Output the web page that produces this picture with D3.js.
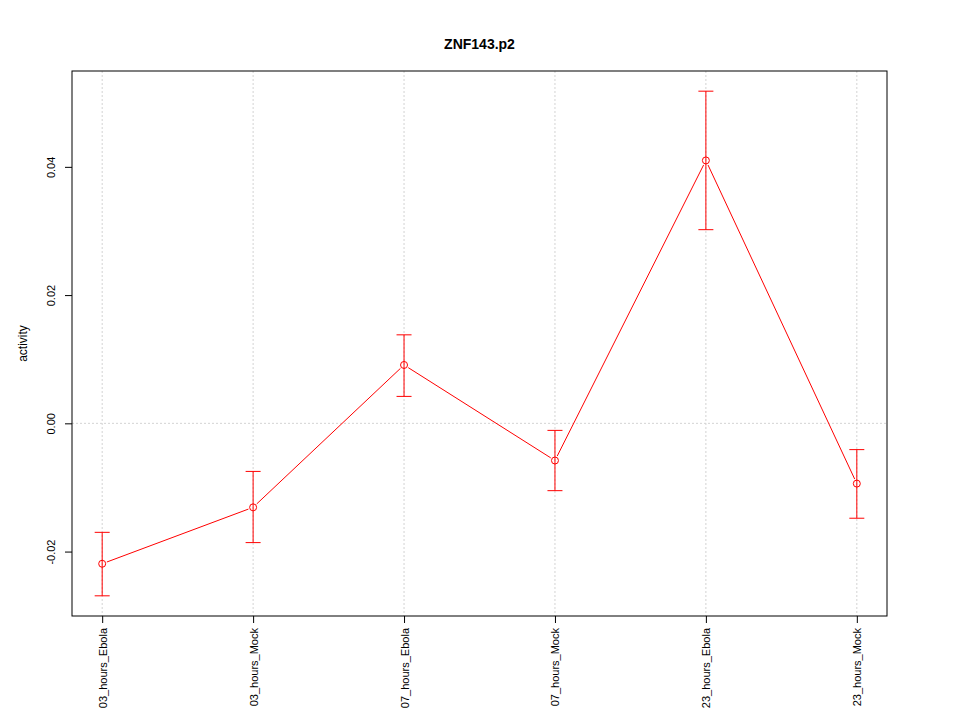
<!DOCTYPE html>
<html>
<head>
<meta charset="utf-8">
<script src="https://cdn.jsdelivr.net/npm/d3@7/dist/d3.min.js"></script>
<style>
body { margin: 0; background: #fff; }
svg { font-family: "Liberation Sans", Arial, sans-serif; }
</style>
</head>
<body>
<svg id="chart" width="960" height="720"></svg>
<script>
const categories = ["03_hours_Ebola", "03_hours_Mock", "07_hours_Ebola", "07_hours_Mock", "23_hours_Ebola", "23_hours_Mock"];
const values = [-0.0219, -0.0131, 0.0091, -0.0058, 0.0410, -0.0094];
const upper = [-0.0170, -0.0075, 0.0138, -0.0011, 0.0518, -0.0041];
const lower = [-0.0269, -0.0186, 0.0042, -0.0105, 0.0302, -0.0148];
const yTicks = [-0.02, 0.00, 0.02, 0.04];
const yTickLabels = ["-0.02", "0.00", "0.02", "0.04"];
const title = "ZNF143.p2";
const yLabel = "activity";

const svg = d3.select("#chart");
const L = 72, R = 887, T = 71, B = 616;

const x = d3.scaleLinear().domain([0.8, 6.2]).range([L, R]);
const lo = d3.min(lower), hi = d3.max(upper), pad = (hi - lo) * 0.04;
const y = d3.scaleLinear().domain([lo - pad, hi + pad]).range([B, T]);

// grid
const grid = svg.append("g").attr("stroke", "#d3d3d3").attr("stroke-dasharray", "2,2").attr("stroke-width", 1);
categories.forEach((c, i) => {
  grid.append("line").attr("x1", x(i + 1)).attr("x2", x(i + 1)).attr("y1", T).attr("y2", B);
});
grid.append("line").attr("x1", L).attr("x2", R).attr("y1", y(0)).attr("y2", y(0));

// box
svg.append("rect").attr("x", L).attr("y", T).attr("width", R - L).attr("height", B - T)
  .attr("fill", "none").attr("stroke", "#000").attr("stroke-width", 1);

// y axis
const yAxis = d3.axisLeft(y).tickValues(yTicks).tickSize(7).tickFormat((d, i) => yTickLabels[i]);
const gy = svg.append("g").attr("transform", `translate(${L},0)`).call(yAxis);
gy.select(".domain").remove();
gy.selectAll(".tick line").attr("stroke", "#000");
gy.selectAll(".tick text")
  .attr("font-size", 11).attr("fill", "#000")
  .attr("text-anchor", "middle")
  .attr("x", null).attr("dy", null)
  .attr("transform", "translate(-17,0) rotate(-90)")
  .attr("y", 0);

// x axis
const xAxis = d3.axisBottom(x).tickValues(categories.map((c, i) => i + 1)).tickSize(7).tickFormat((d) => categories[d - 1]);
const gx = svg.append("g").attr("transform", `translate(0,${B})`).call(xAxis);
gx.select(".domain").remove();
gx.selectAll(".tick line").attr("stroke", "#000");
gx.selectAll(".tick text")
  .attr("font-size", 11).attr("fill", "#000")
  .attr("text-anchor", "end")
  .attr("y", null).attr("dy", null)
  .attr("transform", "translate(4,12) rotate(-90)")
  .attr("x", 0);

// error bars
const eb = svg.append("g").attr("stroke", "#ff0000").attr("stroke-width", 1).attr("fill", "none");
categories.forEach((c, i) => {
  const cx = x(i + 1);
  eb.append("line").attr("x1", cx).attr("x2", cx).attr("y1", y(lower[i])).attr("y2", y(upper[i]));
  eb.append("line").attr("x1", cx - 7.5).attr("x2", cx + 7.5).attr("y1", y(lower[i])).attr("y2", y(lower[i]));
  eb.append("line").attr("x1", cx - 7.5).attr("x2", cx + 7.5).attr("y1", y(upper[i])).attr("y2", y(upper[i]));
});

// line with gaps around points (type "b")
const gap = 5;
const lg = svg.append("g").attr("stroke", "#ff0000").attr("stroke-width", 1);
for (let i = 0; i < values.length - 1; i++) {
  const x1 = x(i + 1), y1 = y(values[i]), x2 = x(i + 2), y2 = y(values[i + 1]);
  const dx = x2 - x1, dy = y2 - y1, len = Math.hypot(dx, dy);
  const ux = dx / len, uy = dy / len;
  lg.append("line")
    .attr("x1", x1 + ux * gap).attr("y1", y1 + uy * gap)
    .attr("x2", x2 - ux * gap).attr("y2", y2 - uy * gap);
}

// points
svg.append("g").selectAll("circle").data(values).join("circle")
  .attr("cx", (d, i) => x(i + 1)).attr("cy", d => y(d)).attr("r", 3.5)
  .attr("fill", "none").attr("stroke", "#ff0000").attr("stroke-width", 1);

// title
svg.append("text").attr("x", (L + R) / 2).attr("y", 49).attr("text-anchor", "middle")
  .attr("font-size", 14).attr("font-weight", "bold").text(title);

// y label
svg.append("text").attr("transform", `translate(27,${(T + B) / 2}) rotate(-90)`)
  .attr("text-anchor", "middle").attr("font-size", 12).text(yLabel);
</script>
</body>
</html>
